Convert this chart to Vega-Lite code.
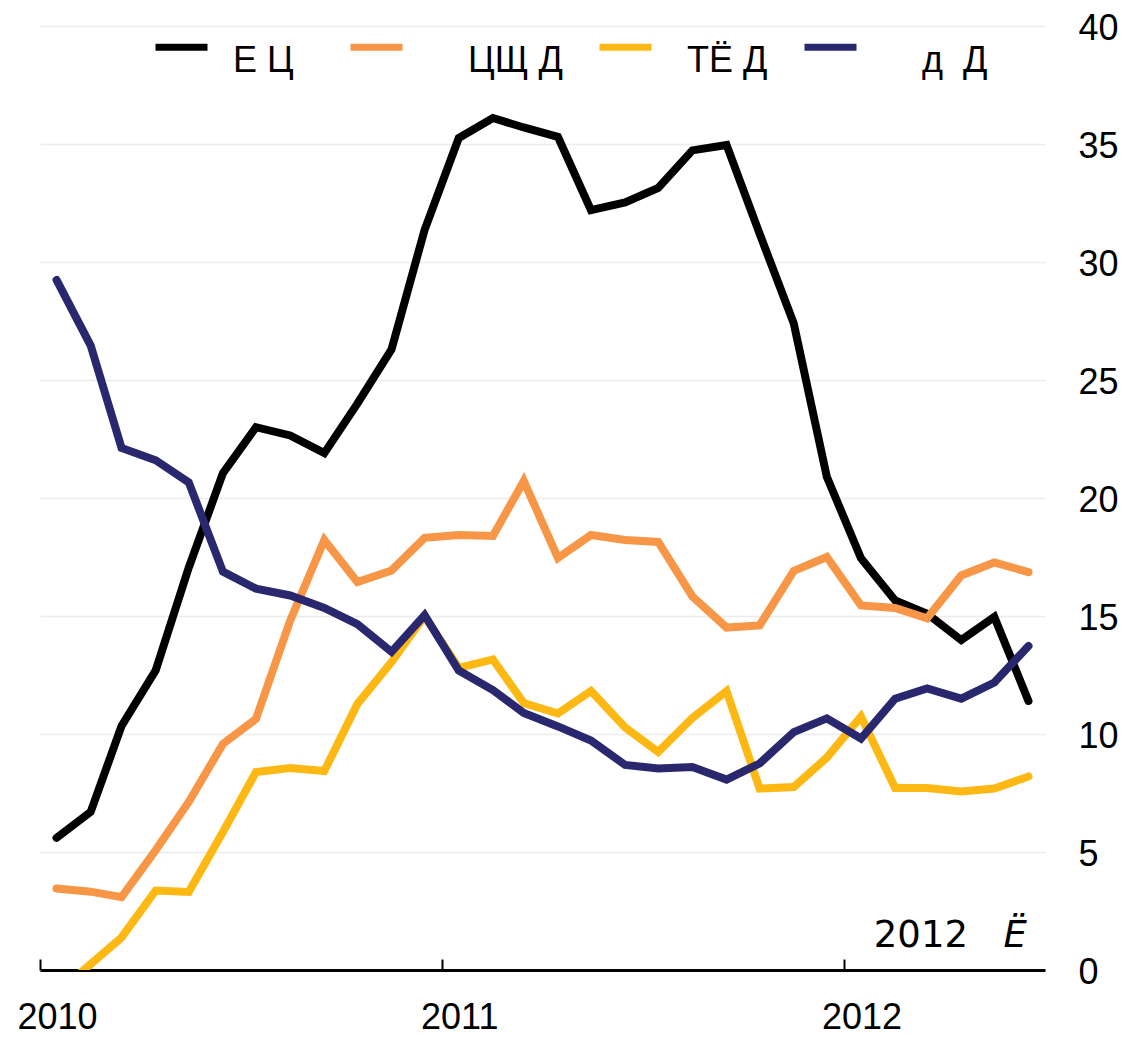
{
  "$schema": "https://vega.github.io/schema/vega-lite/v6.json",
  "width": 1005,
  "height": 944,
  "autosize": {"type": "none"},
  "padding": {"left": 40, "top": 26, "right": 76, "bottom": 67},
  "background": "white",
  "config": {"view": {"stroke": null}, "font": "Liberation Sans"},
  "datasets": {
    "series": [
      {"d": "2010-01-16", "s": "Е Ц", "v": 5.6}, {"d": "2010-02-16", "s": "Е Ц", "v": 6.7}, {"d": "2010-03-16", "s": "Е Ц", "v": 10.34}, {"d": "2010-04-16", "s": "Е Ц", "v": 12.7}, {"d": "2010-05-16", "s": "Е Ц", "v": 17.05}, {"d": "2010-06-16", "s": "Е Ц", "v": 21.05}, {"d": "2010-07-16", "s": "Е Ц", "v": 23.0}, {"d": "2010-08-16", "s": "Е Ц", "v": 22.65}, {"d": "2010-09-16", "s": "Е Ц", "v": 21.9}, {"d": "2010-10-16", "s": "Е Ц", "v": 24.0}, {"d": "2010-11-16", "s": "Е Ц", "v": 26.3}, {"d": "2010-12-16", "s": "Е Ц", "v": 31.36},
      {"d": "2011-01-16", "s": "Е Ц", "v": 35.25}, {"d": "2011-02-16", "s": "Е Ц", "v": 36.1}, {"d": "2011-03-16", "s": "Е Ц", "v": 35.7}, {"d": "2011-04-16", "s": "Е Ц", "v": 35.3}, {"d": "2011-05-16", "s": "Е Ц", "v": 32.2}, {"d": "2011-06-16", "s": "Е Ц", "v": 32.52}, {"d": "2011-07-16", "s": "Е Ц", "v": 33.14}, {"d": "2011-08-16", "s": "Е Ц", "v": 34.73}, {"d": "2011-09-16", "s": "Е Ц", "v": 34.96}, {"d": "2011-10-16", "s": "Е Ц", "v": 31.2}, {"d": "2011-11-16", "s": "Е Ц", "v": 27.4}, {"d": "2011-12-16", "s": "Е Ц", "v": 20.9},
      {"d": "2012-01-16", "s": "Е Ц", "v": 17.45}, {"d": "2012-02-16", "s": "Е Ц", "v": 15.66}, {"d": "2012-03-16", "s": "Е Ц", "v": 15.1}, {"d": "2012-04-16", "s": "Е Ц", "v": 13.98}, {"d": "2012-05-16", "s": "Е Ц", "v": 14.96}, {"d": "2012-06-16", "s": "Е Ц", "v": 11.4},

      {"d": "2010-01-16", "s": "ЦЩ Д", "v": 3.45}, {"d": "2010-02-16", "s": "ЦЩ Д", "v": 3.32}, {"d": "2010-03-16", "s": "ЦЩ Д", "v": 3.09}, {"d": "2010-04-16", "s": "ЦЩ Д", "v": 5.08}, {"d": "2010-05-16", "s": "ЦЩ Д", "v": 7.12}, {"d": "2010-06-16", "s": "ЦЩ Д", "v": 9.58}, {"d": "2010-07-16", "s": "ЦЩ Д", "v": 10.64}, {"d": "2010-08-16", "s": "ЦЩ Д", "v": 14.8}, {"d": "2010-09-16", "s": "ЦЩ Д", "v": 18.22}, {"d": "2010-10-16", "s": "ЦЩ Д", "v": 16.44}, {"d": "2010-11-16", "s": "ЦЩ Д", "v": 16.93}, {"d": "2010-12-16", "s": "ЦЩ Д", "v": 18.31},
      {"d": "2011-01-16", "s": "ЦЩ Д", "v": 18.43}, {"d": "2011-02-16", "s": "ЦЩ Д", "v": 18.39}, {"d": "2011-03-16", "s": "ЦЩ Д", "v": 20.72}, {"d": "2011-04-16", "s": "ЦЩ Д", "v": 17.46}, {"d": "2011-05-16", "s": "ЦЩ Д", "v": 18.43}, {"d": "2011-06-16", "s": "ЦЩ Д", "v": 18.22}, {"d": "2011-07-16", "s": "ЦЩ Д", "v": 18.14}, {"d": "2011-08-16", "s": "ЦЩ Д", "v": 15.83}, {"d": "2011-09-16", "s": "ЦЩ Д", "v": 14.51}, {"d": "2011-10-16", "s": "ЦЩ Д", "v": 14.6}, {"d": "2011-11-16", "s": "ЦЩ Д", "v": 16.91}, {"d": "2011-12-16", "s": "ЦЩ Д", "v": 17.5},
      {"d": "2012-01-16", "s": "ЦЩ Д", "v": 15.45}, {"d": "2012-02-16", "s": "ЦЩ Д", "v": 15.34}, {"d": "2012-03-16", "s": "ЦЩ Д", "v": 14.9}, {"d": "2012-04-16", "s": "ЦЩ Д", "v": 16.72}, {"d": "2012-05-16", "s": "ЦЩ Д", "v": 17.27}, {"d": "2012-06-16", "s": "ЦЩ Д", "v": 16.86},

      {"d": "2010-01-16", "s": "ТЁ Д", "v": -1.0}, {"d": "2010-02-16", "s": "ТЁ Д", "v": 0.25}, {"d": "2010-03-16", "s": "ТЁ Д", "v": 1.38}, {"d": "2010-04-16", "s": "ТЁ Д", "v": 3.37}, {"d": "2010-05-16", "s": "ТЁ Д", "v": 3.31}, {"d": "2010-06-16", "s": "ТЁ Д", "v": 5.85}, {"d": "2010-07-16", "s": "ТЁ Д", "v": 8.39}, {"d": "2010-08-16", "s": "ТЁ Д", "v": 8.56}, {"d": "2010-09-16", "s": "ТЁ Д", "v": 8.43}, {"d": "2010-10-16", "s": "ТЁ Д", "v": 11.27}, {"d": "2010-11-16", "s": "ТЁ Д", "v": 13.05}, {"d": "2010-12-16", "s": "ТЁ Д", "v": 15.0},
      {"d": "2011-01-16", "s": "ТЁ Д", "v": 12.8}, {"d": "2011-02-16", "s": "ТЁ Д", "v": 13.16}, {"d": "2011-03-16", "s": "ТЁ Д", "v": 11.31}, {"d": "2011-04-16", "s": "ТЁ Д", "v": 10.87}, {"d": "2011-05-16", "s": "ТЁ Д", "v": 11.82}, {"d": "2011-06-16", "s": "ТЁ Д", "v": 10.28}, {"d": "2011-07-16", "s": "ТЁ Д", "v": 9.24}, {"d": "2011-08-16", "s": "ТЁ Д", "v": 10.68}, {"d": "2011-09-16", "s": "ТЁ Д", "v": 11.82}, {"d": "2011-10-16", "s": "ТЁ Д", "v": 7.69}, {"d": "2011-11-16", "s": "ТЁ Д", "v": 7.75}, {"d": "2011-12-16", "s": "ТЁ Д", "v": 9.0},
      {"d": "2012-01-16", "s": "ТЁ Д", "v": 10.74}, {"d": "2012-02-16", "s": "ТЁ Д", "v": 7.71}, {"d": "2012-03-16", "s": "ТЁ Д", "v": 7.71}, {"d": "2012-04-16", "s": "ТЁ Д", "v": 7.56}, {"d": "2012-05-16", "s": "ТЁ Д", "v": 7.69}, {"d": "2012-06-16", "s": "ТЁ Д", "v": 8.2},

      {"d": "2010-01-16", "s": "д Д", "v": 29.24}, {"d": "2010-02-16", "s": "д Д", "v": 26.46}, {"d": "2010-03-16", "s": "д Д", "v": 22.12}, {"d": "2010-04-16", "s": "д Д", "v": 21.6}, {"d": "2010-05-16", "s": "д Д", "v": 20.66}, {"d": "2010-06-16", "s": "д Д", "v": 16.88}, {"d": "2010-07-16", "s": "д Д", "v": 16.16}, {"d": "2010-08-16", "s": "д Д", "v": 15.87}, {"d": "2010-09-16", "s": "д Д", "v": 15.34}, {"d": "2010-10-16", "s": "д Д", "v": 14.65}, {"d": "2010-11-16", "s": "д Д", "v": 13.48}, {"d": "2010-12-16", "s": "д Д", "v": 15.04},
      {"d": "2011-01-16", "s": "д Д", "v": 12.69}, {"d": "2011-02-16", "s": "д Д", "v": 11.86}, {"d": "2011-03-16", "s": "д Д", "v": 10.89}, {"d": "2011-04-16", "s": "д Д", "v": 10.32}, {"d": "2011-05-16", "s": "д Д", "v": 9.72}, {"d": "2011-06-16", "s": "д Д", "v": 8.69}, {"d": "2011-07-16", "s": "д Д", "v": 8.54}, {"d": "2011-08-16", "s": "д Д", "v": 8.6}, {"d": "2011-09-16", "s": "д Д", "v": 8.07}, {"d": "2011-10-16", "s": "д Д", "v": 8.75}, {"d": "2011-11-16", "s": "д Д", "v": 10.08}, {"d": "2011-12-16", "s": "д Д", "v": 10.66},
      {"d": "2012-01-16", "s": "д Д", "v": 9.81}, {"d": "2012-02-16", "s": "д Д", "v": 11.5}, {"d": "2012-03-16", "s": "д Д", "v": 11.93}, {"d": "2012-04-16", "s": "д Д", "v": 11.5}, {"d": "2012-05-16", "s": "д Д", "v": 12.18}, {"d": "2012-06-16", "s": "д Д", "v": 13.73}
    ]
  },
  "layer": [
    {
      "data": {"name": "series"},
      "mark": {"type": "line", "strokeWidth": 8, "strokeCap": "round", "strokeJoin": "miter", "clip": true},
      "encoding": {
        "x": {
          "field": "d", "type": "temporal",
          "scale": {"type": "utc", "domain": [{"year": 2010, "month": 1, "date": 1, "utc": true}, {"year": 2012, "month": 7, "date": 1, "utc": true}]},
          "axis": {
            "title": null, "format": "%Y", "tickCount": {"interval": "year", "step": 1}, "grid": false,
            "domainColor": "#000000", "domainWidth": 3, "domainCap": "butt",
            "tickColor": "#000000", "tickWidth": 2, "tickSize": -11,
            "labelFont": "Liberation Sans", "labelFontSize": 36, "labelColor": "#000000",
            "labelOffset": 17, "labelPadding": 41, "labelFlush": false, "labelOverlap": false
          }
        },
        "y": {
          "field": "v", "type": "quantitative",
          "scale": {"domain": [0, 40], "nice": false, "zero": false},
          "axis": {
            "orient": "right", "title": null, "values": [0, 5, 10, 15, 20, 25, 30, 35, 40],
            "domain": false, "ticks": false, "grid": true, "gridColor": "#ececec", "gridWidth": 1.5,
            "labelFont": "Liberation Sans", "labelFontSize": 36, "labelColor": "#000000",
            "labelAlign": "left", "labelPadding": 33, "labelOffset": 2, "labelFlush": false, "labelOverlap": false
          }
        },
        "color": {
          "field": "s", "type": "nominal",
          "scale": {"domain": ["Е Ц", "ЦЩ Д", "ТЁ Д", "д Д"], "range": ["#000000", "#F79646", "#FDB813", "#29286F"]},
          "legend": {
            "orient": "none", "legendX": 112, "legendY": 5, "direction": "horizontal", "title": null, "padding": 0,
            "symbolType": "M-1,-0.52L1,-0.52", "symbolSize": 2704, "symbolStrokeWidth": 7,
            "labelFont": "Liberation Sans", "labelFontSize": 36, "labelColor": "#000000", "labelOffset": 22, "labelLimit": 0,
            "columnPadding": 22, "rowPadding": 0,
            "labelExpr": "datum.value == 'Е Ц' ? 'Е Ц\u00a0\u00a0\u200b' : datum.value == 'ЦЩ Д' ? '\u200b\u00a0\u00a0\u00a0\u00a0ЦЩ Д' : datum.value == 'ТЁ Д' ? '\u200b\u00a0ТЁ Д' : '\u200b\u00a0\u00a0\u00a0\u00a0д\u00a0 Д'",
            "encoding": {"symbols": {"update": {"strokeCap": {"value": "round"}}}}
          }
        }
      }
    },
    {
      "data": {"values": [{}]},
      "mark": {"type": "text", "text": "2012", "font": "DejaVu Sans", "fontSize": 37, "align": "right", "baseline": "alphabetic", "dx": -77, "color": "#000000"},
      "encoding": {
        "x": {"datum": {"year": 2012, "month": 7, "date": 1, "utc": true}, "type": "temporal"},
        "y": {"datum": 0.97, "type": "quantitative"}
      }
    },
    {
      "data": {"values": [{}]},
      "mark": {"type": "text", "text": "Ë", "font": "DejaVu Sans", "fontSize": 37, "fontStyle": "italic", "align": "right", "baseline": "alphabetic", "dx": -18, "color": "#000000"},
      "encoding": {
        "x": {"datum": {"year": 2012, "month": 7, "date": 1, "utc": true}, "type": "temporal"},
        "y": {"datum": 0.97, "type": "quantitative"}
      }
    }
  ]
}
